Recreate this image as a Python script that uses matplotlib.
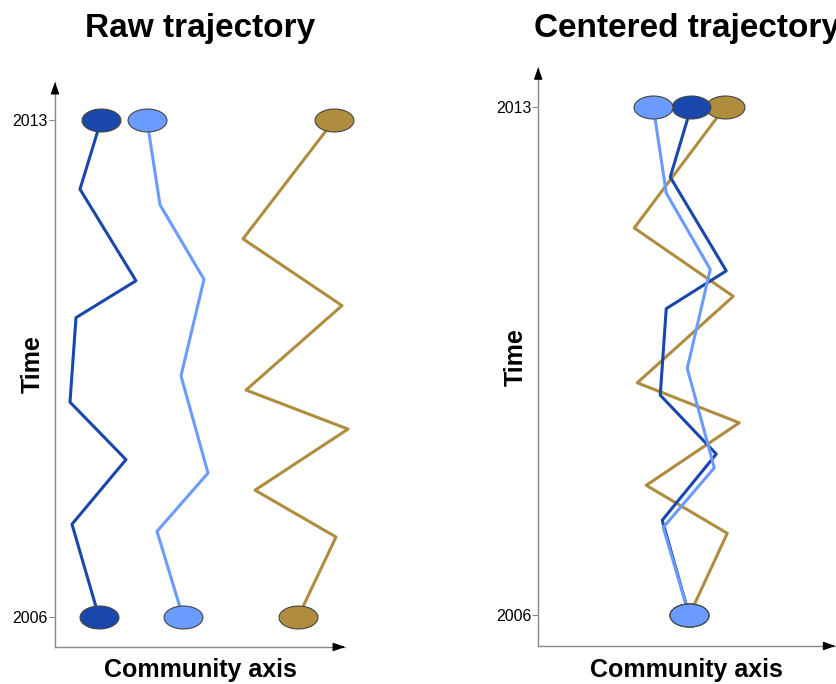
import matplotlib
matplotlib.use("Agg")
import matplotlib.pyplot as plt
import numpy as np
from matplotlib.path import Path

plt.rcParams['font.family'] = ['Liberation Sans', 'DejaVu Sans']

# three communities, sampled at irregular times (fractional years)
colors = {"dark": "#1a47ab", "light": "#6b9bff", "gold": "#b08d3e"}

time_dark = [2006.0, 2007.31, 2008.22, 2009.03, 2010.22, 2010.74, 2012.03, 2013.0]
pos_dark = [0.44, 0.17, 0.71, 0.15, 0.21, 0.81, 0.25, 0.46]

time_light = [2006.0, 2007.21, 2008.03, 2009.40, 2010.76, 2011.81, 2013.0]
pos_light = [1.28, 1.02, 1.53, 1.26, 1.49, 1.05, 0.92]

time_gold = [2006.0, 2007.13, 2007.79, 2008.65, 2009.20, 2010.39, 2011.33, 2013.0]
pos_gold = [2.43, 2.81, 2.00, 2.93, 1.91, 2.87, 1.88, 2.79]

year_ticks = [2006, 2013]

series = {
    "dark": (time_dark, pos_dark),
    "light": (time_light, pos_light),
    "gold": (time_gold, pos_gold),
}
draw_order = ["gold", "dark", "light"]

# ellipse marker
theta = np.linspace(0, 2 * np.pi, 60)
ellipse = Path(np.column_stack([np.cos(theta), 0.59 * np.sin(theta)]), closed=True)

fig = plt.figure(figsize=(8.37, 6.84), dpi=100)
ax1 = fig.add_axes([0.0657, 0.0541, 0.3465, 0.826])
ax2 = fig.add_axes([0.643, 0.0556, 0.355, 0.846])


def axis_arrows(ax):
    ax.plot([0, 0], [0, 1], color="#888888", lw=1, transform=ax.transAxes, clip_on=False)
    ax.plot([0, 1], [0, 0], color="#888888", lw=1, transform=ax.transAxes, clip_on=False)
    style = dict(arrowstyle="-|>,head_length=0.7,head_width=0.25", color="black",
                 lw=1, shrinkA=0, shrinkB=0)
    ax.annotate("", xy=(0, 1), xytext=(0, 0.99), xycoords="axes fraction", arrowprops=style)
    ax.annotate("", xy=(1, 0), xytext=(0.99, 0), xycoords="axes fraction", arrowprops=style)


def draw(ax, centered, title, xlim):
    for key in draw_order:
        t, x = series[key]
        x = np.array(x)
        if centered:
            x = x - x[0]
        ax.plot(x, t, color=colors[key], lw=2.2, zorder=2, clip_on=False)
    for key in draw_order:
        t, x = series[key]
        x = np.array(x)
        if centered:
            x = x - x[0]
        ax.plot([x[0], x[-1]], [t[0], t[-1]], ls="none", marker=ellipse,
                markersize=28, markerfacecolor=colors[key],
                markeredgecolor="#444444", markeredgewidth=0.8, zorder=3, clip_on=False)
    ax.set_xlim(*xlim)
    ax.set_ylim(2005.58, 2013.54)
    for s in ax.spines.values():
        s.set_visible(False)
    axis_arrows(ax)
    ax.set_xticks([])
    ax.set_yticks(year_ticks)
    ax.set_yticklabels([str(y) for y in year_ticks], fontsize=11.5)
    ax.tick_params(axis="y", length=4, color="#888888", pad=1)
    ax.set_ylabel("Time", fontsize=18, fontweight="bold")
    ax.yaxis.set_label_coords(-0.077, 0.5)
    ax.yaxis.label.set_va("center")
    ax.set_xlabel("Community axis", fontsize=18, fontweight="bold")
    ax.xaxis.set_label_coords(0.5, -0.041)
    ax.xaxis.label.set_va("center")
    bb = ax.get_position()
    fig.text((bb.x0 + bb.x1) / 2, 1 - 37 / 684, title, fontsize=24,
             fontweight="bold", ha="center", va="baseline")


draw(ax1, False, "Raw trajectory", (0, 2.9))
draw(ax2, True, "Centered trajectory", (-1.51, 1.46))

plt.savefig("out.png", dpi=100)
